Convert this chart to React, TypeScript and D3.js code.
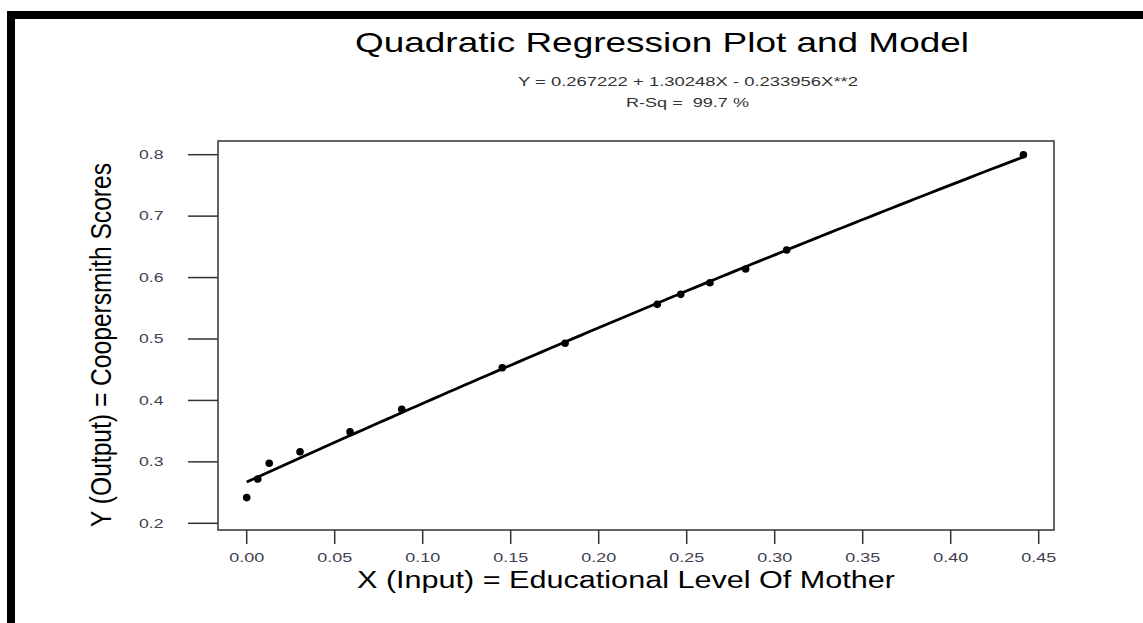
import React from "react";
import * as d3 from "d3";

const xValues = [0.0, 0.0063, 0.0128, 0.0303, 0.0587, 0.0881, 0.1452, 0.1809, 0.2333, 0.2466, 0.2632, 0.2835, 0.3068, 0.4413];
const yValues = [0.2418, 0.2721, 0.2977, 0.3165, 0.3491, 0.3855, 0.4533, 0.493, 0.5564, 0.5727, 0.5916, 0.6139, 0.6448, 0.7999];
const xTicks = [0.0, 0.05, 0.1, 0.15, 0.2, 0.25, 0.3, 0.35, 0.4, 0.45];
const yTicks = [0.2, 0.3, 0.4, 0.5, 0.6, 0.7, 0.8];
const coef = [0.267222, 1.30248, -0.233956];

const W = 1143;
const H = 623;
const frame = { left: 218, right: 1054, top: 141, bottom: 530 };

export default function App() {
  const x = d3.scaleLinear().domain([0, 0.45]).range([246.7, 1038.7]);
  const y = d3.scaleLinear().domain([0.2, 0.8]).range([523.3, 154.7]);

  const xMin = d3.min(xValues) as number;
  const xMax = d3.max(xValues) as number;
  const curveXs = d3.range(0, 101).map((i) => xMin + ((xMax - xMin) * i) / 100);
  const line = d3
    .line<number>()
    .x((d) => x(d))
    .y((d) => y(coef[0] + coef[1] * d + coef[2] * d * d));

  const font = "'Liberation Sans', Arial, sans-serif";

  return (
    <svg
      width={W}
      height={H}
      style={{ position: "absolute", left: 0, top: 0, background: "#fff" }}
      fontFamily={font}
    >
      <rect x={0} y={0} width={W} height={H} fill="#fff" />
      {/* black borders */}
      <rect x={7} y={11} width={W - 7} height={8} fill="#000" />
      <rect x={7} y={11} width={8} height={H - 11} fill="#000" />

      {/* titles */}
      <text x={355} y={52} fontSize={28} fill="#000" textLength={614} lengthAdjust="spacingAndGlyphs">
        Quadratic Regression Plot and Model
      </text>
      <text x={518} y={85.7} fontSize={13.5} fill="#333" textLength={340} lengthAdjust="spacingAndGlyphs">
        Y = 0.267222 + 1.30248X - 0.233956X**2
      </text>
      <text x={626} y={106.5} fontSize={13.5} fill="#333" textLength={123} lengthAdjust="spacingAndGlyphs" style={{ whiteSpace: "pre" }}>
        {"R-Sq =  99.7 %"}
      </text>

      {/* frame */}
      <rect
        x={frame.left}
        y={frame.top}
        width={frame.right - frame.left}
        height={frame.bottom - frame.top}
        fill="none"
        stroke="#333"
        strokeWidth={1.5}
      />

      {/* y ticks */}
      {yTicks.map((t) => (
        <g key={"y" + t}>
          <line x1={188} x2={frame.left} y1={y(t)} y2={y(t)} stroke="#333" strokeWidth={1.5} />
          <text
            x={163.5}
            y={y(t) + 4.3}
            fontSize={12}
            fill="#404050"
            textAnchor="end"
            textLength={24.5}
            lengthAdjust="spacingAndGlyphs"
          >
            {d3.format(".1f")(t)}
          </text>
        </g>
      ))}

      {/* x ticks */}
      {xTicks.map((t) => (
        <g key={"x" + t}>
          <line x1={x(t)} x2={x(t)} y1={frame.bottom} y2={544} stroke="#333" strokeWidth={1.5} />
          <text
            x={x(t)}
            y={561.5}
            fontSize={12.5}
            fill="#404050"
            textAnchor="middle"
            textLength={35}
            lengthAdjust="spacingAndGlyphs"
          >
            {d3.format(".2f")(t)}
          </text>
        </g>
      ))}

      {/* axis labels */}
      <text x={357} y={588} fontSize={23} fill="#000" textLength={538} lengthAdjust="spacingAndGlyphs">
        X (Input) = Educational Level Of Mother
      </text>
      <g transform="translate(111,345) scale(1.3,1) rotate(-90)">
        <text x={0} y={0} fontSize={23} fill="#000" textAnchor="middle" textLength={364} lengthAdjust="spacingAndGlyphs">
          Y (Output) = Coopersmith Scores
        </text>
      </g>

      {/* regression curve */}
      <path d={line(curveXs) || ""} fill="none" stroke="#000" strokeWidth={2.8} />

      {/* points */}
      {xValues.map((xv, i) => (
        <circle key={i} cx={x(xv)} cy={y(yValues[i])} r={3.8} fill="#000" />
      ))}
    </svg>
  );
}
